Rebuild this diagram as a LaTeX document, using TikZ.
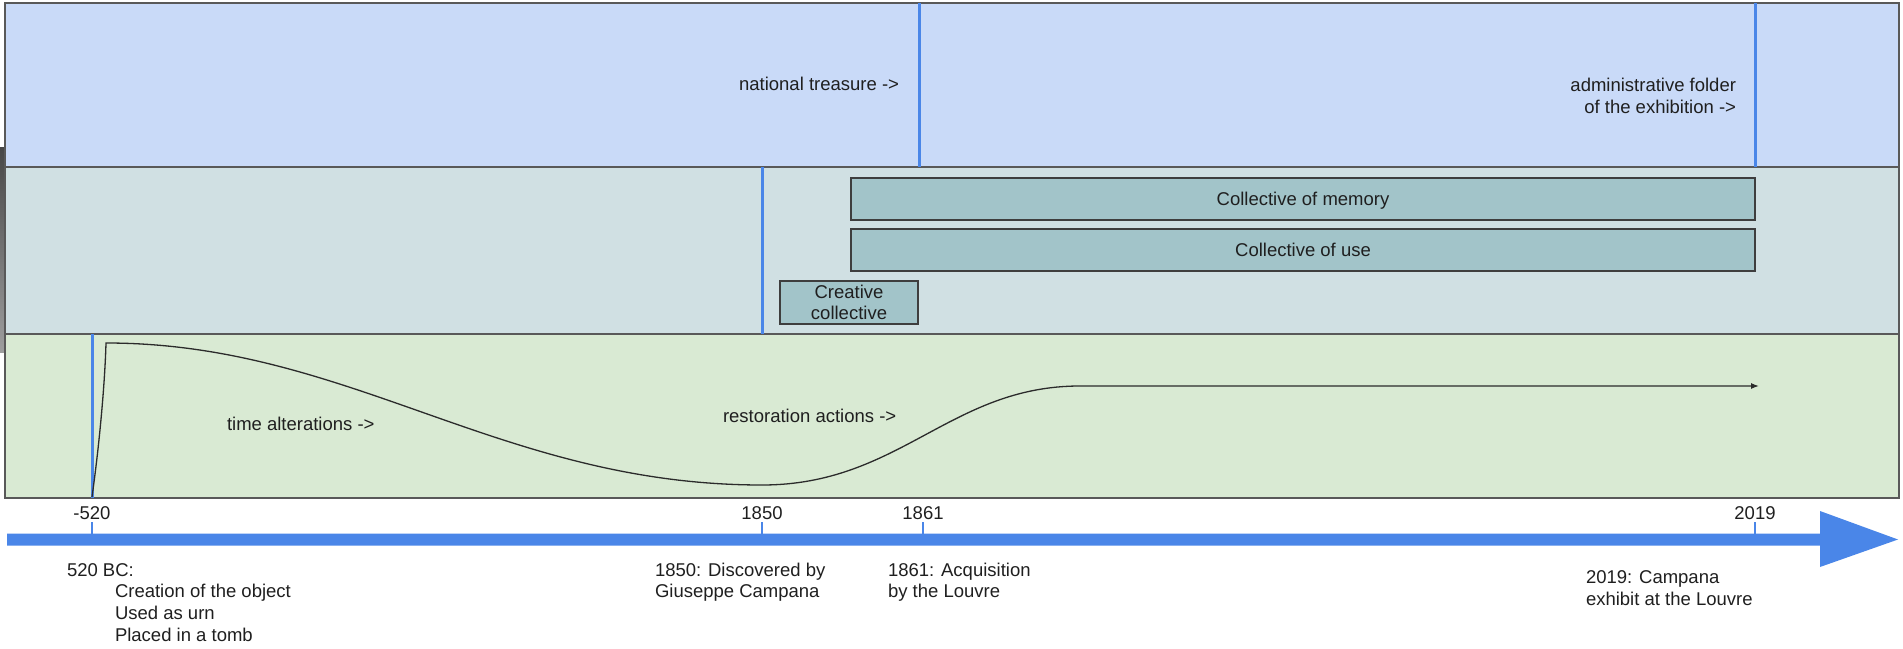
\documentclass[tikz,border=0pt]{standalone}
\usepackage{fontspec}
\setmainfont{Liberation Sans}
\usetikzlibrary{arrows.meta}
\definecolor{bandA}{HTML}{C9DAF8}
\definecolor{bandB}{HTML}{D0E0E3}
\definecolor{bandC}{HTML}{D9EAD3}
\definecolor{boxfill}{HTML}{A2C4C9}
\definecolor{axisblue}{HTML}{4A86E8}
\definecolor{edge}{HTML}{595959}
\definecolor{ink}{HTML}{1F1F1F}
\definecolor{curveink}{HTML}{2B2B2B}
\begin{document}
\begin{tikzpicture}[x=1bp,y=-1bp,
  every node/.style={font=\fontsize{18.5bp}{21.7bp}\selectfont, text=ink, inner sep=0pt, outer sep=0pt},
  band/.style={draw=edge, line width=1.5bp},
  marker/.style={draw=axisblue, line width=3bp},
  tickmark/.style={draw=axisblue, line width=2.5bp},
  collbox/.style={draw=edge!70!black, line width=1.3bp, fill=boxfill},
  curveline/.style={draw=curveink, line width=1.3bp},
]
\useasboundingbox (0,0) rectangle (1903,649);
% left artefact strip
\shade[top color=black!72, bottom color=black!38] (0,148) rectangle (5,352);
% bands
\path[band, fill=bandA] (5,3) rectangle (1899,167);
\path[band, fill=bandB] (5,167) rectangle (1899,334);
\path[band, fill=bandC] (5,334) rectangle (1899,498);

% marker coordinates
\coordinate (m520a) at (92,334);   \coordinate (m520b) at (92,498);
\coordinate (m1850a) at (762,167); \coordinate (m1850b) at (762,334);
\coordinate (mnta) at (919,3);     \coordinate (mntb) at (919,167);
\coordinate (madma) at (1755,3);   \coordinate (madmb) at (1755,167);
\draw[marker] (m520a) -- (m520b);
\draw[marker] (m1850a) -- (m1850b);
\draw[marker] (mnta) -- (mntb);
\draw[marker] (madma) -- (madmb);

% band 1 texts
\node[anchor=base east] (nt) at (899,91) {national treasure ->};
\node[anchor=north east, align=right] (adm) at (1736,78.5) {administrative folder\\of the exhibition ->};

% band 2 boxes
\node[collbox, minimum width=904bp, minimum height=42bp, text height=13.3bp, text depth=0pt] (memory) at (1303,199) {Collective of memory};
\node[collbox, minimum width=904bp, minimum height=42bp, text height=13.3bp, text depth=0pt] (use) at (1303,250) {Collective of use};
\node[collbox, align=center, minimum width=138bp, minimum height=43bp] (creative) at (849,302.5) {Creative\\collective};

% band 3 curve
\coordinate (c0) at (92,497);
\coordinate (c1) at (106,343);
\coordinate (c2) at (762,485);
\coordinate (c3) at (1080,386);
\coordinate (c4) at (1759,386);
\draw[curveline, -{Latex[length=8bp,width=6bp]}] (c0) .. controls (100,440) and (105,380) .. (c1)
  .. controls (350,343) and (500,485) .. (c2)
  .. controls (900,485) and (950,386) .. (c3) -- (c4);
\node[anchor=base west] (time) at (227,430.5) {time alterations ->};
\node[anchor=base west] (resto) at (723,422.3) {restoration actions ->};

% axis
\fill[axisblue] (7,533.5) -- (1820,533.5) -- (1820,511) -- (1898,539.5) -- (1820,567) -- (1820,545.5) -- (7,545.5) -- cycle;
\coordinate (t1a) at (92,522);   \coordinate (t1b) at (92,535);
\coordinate (t2a) at (762,522);  \coordinate (t2b) at (762,535);
\coordinate (t3a) at (923,522);  \coordinate (t3b) at (923,535);
\coordinate (t4a) at (1755,522); \coordinate (t4b) at (1755,535);
\draw[tickmark] (t1a) -- (t1b);
\draw[tickmark] (t2a) -- (t2b);
\draw[tickmark] (t3a) -- (t3b);
\draw[tickmark] (t4a) -- (t4b);
\node[anchor=base] (y520) at (92,519.6) {-520};
\node[anchor=base] (y1850) at (762,519.6) {1850};
\node[anchor=base] (y1861) at (923,519.6) {1861};
\node[anchor=base] (y2019) at (1755,519.6) {2019};

% descriptions
\node[anchor=north west, align=left] (d520) at (67,563.3) {520 BC:\\\hspace*{48bp}Creation of the object\\\hspace*{48bp}Used as urn\\\hspace*{48bp}Placed in a tomb};
\node[anchor=north west, align=left] (d1850) at (655,562.6) {1850: Discovered by\\Giuseppe Campana};
\node[anchor=north west, align=left] (d1861) at (888,562.8) {1861: Acquisition\\by the Louvre};
\node[anchor=north west, align=left] (d2019) at (1586,570.7) {2019: Campana\\exhibit at the Louvre};
\end{tikzpicture}
\end{document}
